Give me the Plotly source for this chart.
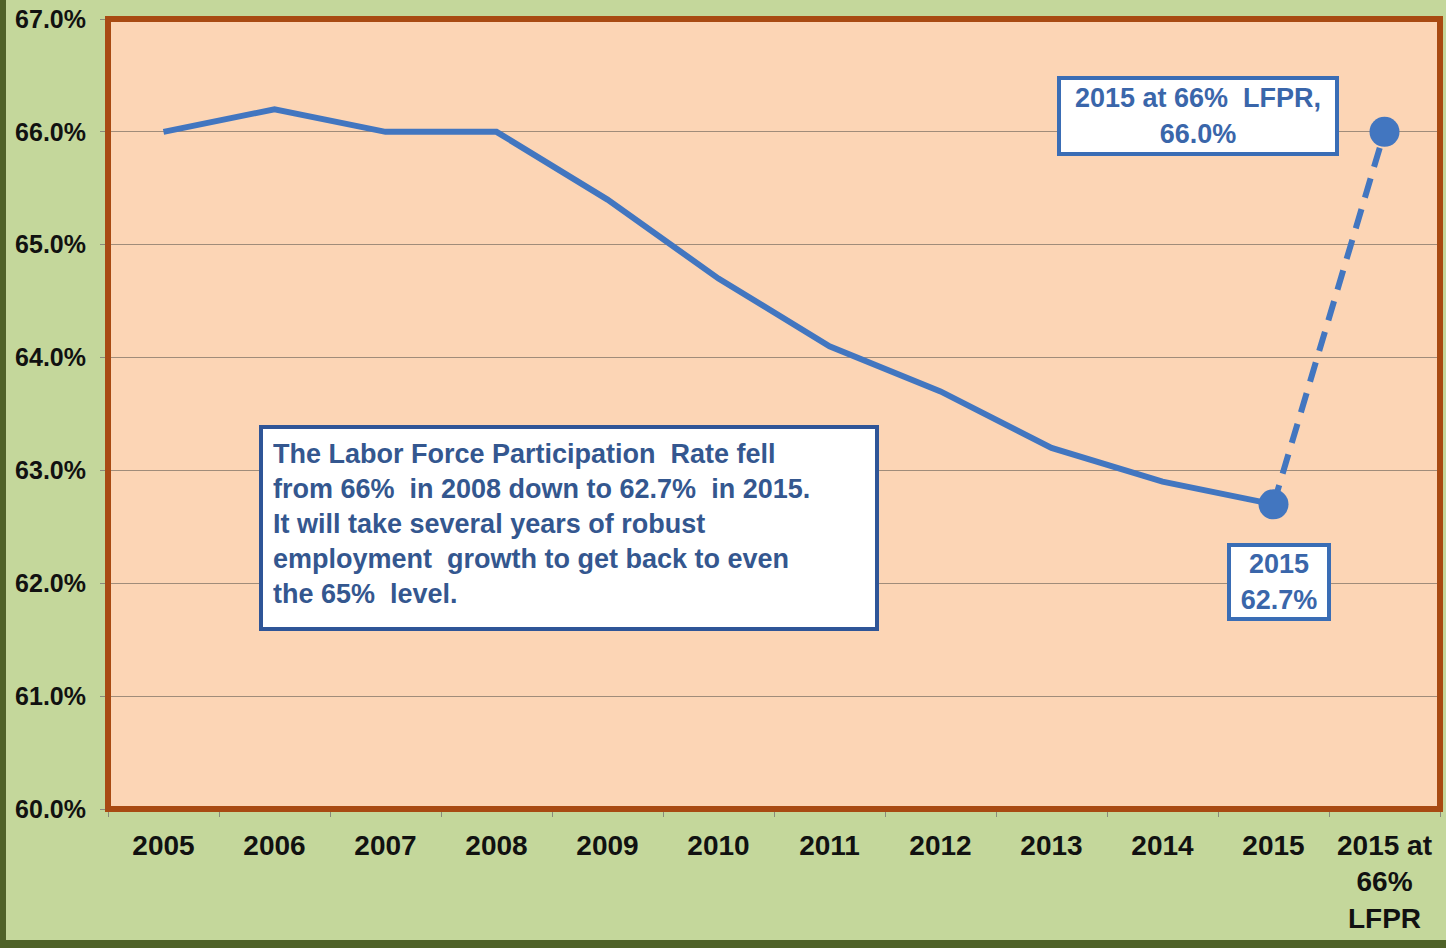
import plotly.graph_objects as go

# Labor force participation rate, annual averages (%)
years = ["2005", "2006", "2007", "2008", "2009", "2010",
         "2011", "2012", "2013", "2014", "2015"]
lfpr = [66.0, 66.2, 66.0, 66.0, 65.4, 64.7, 64.1, 63.7, 63.2, 62.9, 62.7]

# Hypothetical 2015 value at a 66% participation rate
target_label = "2015 at<br>66%<br>LFPR"
target_value = 66.0

categories = years + [target_label]
y_ticks = [60, 61, 62, 63, 64, 65, 66, 67]

LINE_BLUE = "#4276C0"
TEXT_BLUE = "#3A66AA"
BOX_BLUE = "#3A6DB5"
FONT = "Liberation Sans, Arial, sans-serif"

fig = go.Figure()

# Actual series
fig.add_trace(go.Scatter(
    x=years, y=lfpr, mode="lines",
    line=dict(color=LINE_BLUE, width=6),
    hoverinfo="skip", showlegend=False,
))

# Dashed projection from the 2015 value to the 66% scenario
fig.add_trace(go.Scatter(
    x=[years[-1], target_label], y=[lfpr[-1], target_value], mode="lines",
    line=dict(color=LINE_BLUE, width=6, dash="20px,12px"),
    hoverinfo="skip", showlegend=False,
))

# Highlight markers
fig.add_trace(go.Scatter(
    x=[years[-1], target_label], y=[lfpr[-1], target_value], mode="markers",
    marker=dict(color=LINE_BLUE, size=30, line=dict(width=0)),
    hoverinfo="skip", showlegend=False,
))

fig.update_xaxes(
    type="category",
    categoryorder="array", categoryarray=categories,
    range=[-0.5, len(categories) - 0.5],
    showgrid=False, zeroline=False,
    ticks="outside", tickson="boundaries", ticklen=7, tickcolor="#8A8A7A", tickwidth=1,
    tickfont=dict(family=FONT, size=28, color="#111111", weight="bold"),
    ticklabelstandoff=17,
    showline=False,
)

fig.update_yaxes(
    range=[60, 67],
    tickvals=y_ticks,
    ticktext=[f"{v:.1f}%" for v in y_ticks],
    showgrid=True, gridcolor="#A08C7A", gridwidth=1,
    zeroline=False,
    ticks="outside", ticklen=7, tickcolor="#8A8A7A", tickwidth=1,
    tickfont=dict(family=FONT, size=25, color="#111111", weight="bold"),
    ticklabelstandoff=9,
    showline=False,
)

# Plot-area frame
fig.add_shape(type="rect", xref="paper", yref="paper", x0=0, y0=0, x1=1, y1=1,
              line=dict(color="#A84A12", width=6), layer="above")

# Dark outer edges of the slide
fig.add_shape(type="rect", xref="paper", yref="paper",
              x0=-108 / 1332, x1=-102 / 1332, y0=-139 / 790, y1=(790 + 19) / 790,
              line=dict(width=0), fillcolor="#4F6228", layer="above")
fig.add_shape(type="rect", xref="paper", yref="paper",
              x0=-108 / 1332, x1=(1332 + 6) / 1332, y0=-139 / 790, y1=-131 / 790,
              line=dict(width=0), fillcolor="#4F6228", layer="above")

# Callouts
fig.add_annotation(
    x=9.32, y=66.14, xref="x", yref="y",
    text="2015 at 66%  LFPR,<br>66.0%",
    showarrow=False, align="center",
    font=dict(family=FONT, size=27, color=TEXT_BLUE, weight="bold"),
    bgcolor="white", bordercolor=BOX_BLUE, borderwidth=4, borderpad=3,
    width=268, height=66,
)
fig.add_annotation(
    x=10.05, y=62.01, xref="x", yref="y",
    text="2015<br>62.7%",
    showarrow=False, align="center",
    font=dict(family=FONT, size=27, color=TEXT_BLUE, weight="bold"),
    bgcolor="white", bordercolor=BOX_BLUE, borderwidth=4, borderpad=3,
    width=90, height=64,
)
fig.add_annotation(
    x=3.65, y=62.49, xref="x", yref="y",
    text=("The Labor Force Participation  Rate fell<br>"
          "from 66%  in 2008 down to 62.7%  in 2015.<br>"
          "It will take several years of robust<br>"
          "employment  growth to get back to even<br>"
          "the 65%  level."),
    showarrow=False, align="left", valign="top",
    font=dict(family=FONT, size=27, color="#34578F", weight="bold"),
    bgcolor="white", bordercolor="#2F5597", borderwidth=4, borderpad=10,
    width=592, height=178,
)

fig.update_layout(
    width=1446, height=948,
    margin=dict(l=108, r=6, t=19, b=139),
    paper_bgcolor="#C4D79B",
    plot_bgcolor="#FCD5B5",
    showlegend=False,
)

fig.write_html("out.html")
